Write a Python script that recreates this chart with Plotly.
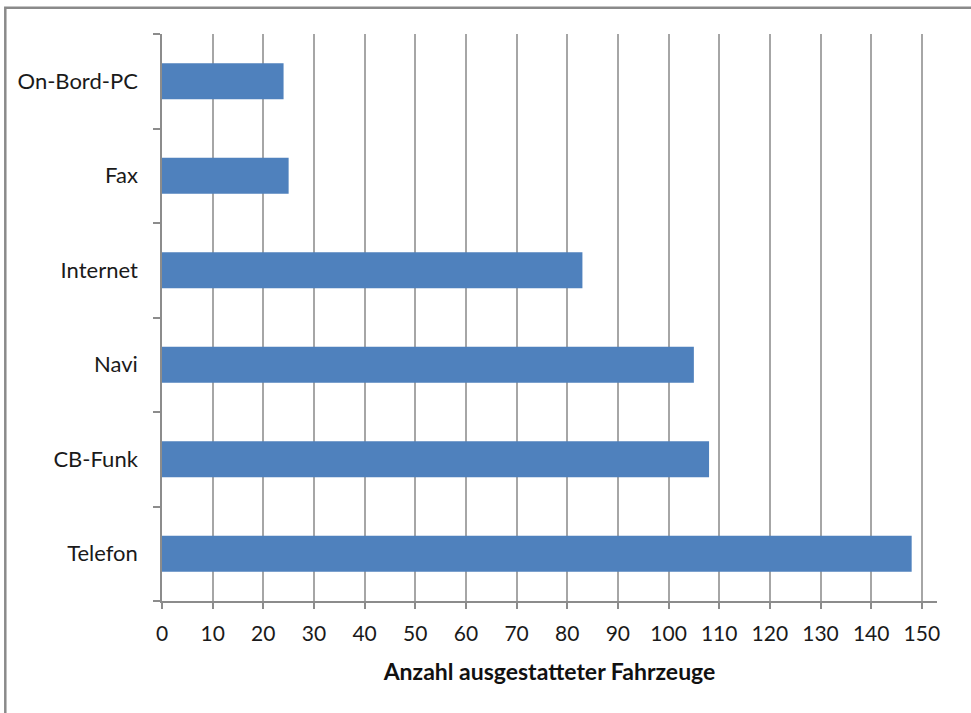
import plotly.graph_objects as go

categories = ["Telefon", "CB-Funk", "Navi", "Internet", "Fax", "On-Bord-PC"]
values = [148, 108, 105, 83, 25, 24]
x_ticks = list(range(0, 151, 10))
x_title = "Anzahl ausgestatteter Fahrzeuge"

W, H = 971, 713
ml, mr, mt, mb = 162, 34, 34, 112
pw = W - ml - mr
ph = H - mt - mb

fig = go.Figure(go.Bar(
    y=categories, x=values, orientation="h",
    marker=dict(color="#4F81BD", line=dict(width=0)),
    width=0.38,
))

font = "Lato, 'Open Sans', sans-serif"
fig.update_layout(
    width=W, height=H,
    margin=dict(l=ml, r=mr, t=mt, b=mb),
    paper_bgcolor="white", plot_bgcolor="white",
    showlegend=False,
    font=dict(family=font, size=21, color="#1a1a1a"),
    xaxis=dict(
        range=[0, 153], tickvals=x_ticks, ticktext=[str(v) for v in x_ticks],
        showgrid=True, gridcolor="#a6a6a6", gridwidth=1.5,
        showline=True, linecolor="#8c8c8c", linewidth=1.5,
        ticks="outside", ticklen=6, tickcolor="#8c8c8c", tickwidth=1.5,
        zeroline=False,
        tickfont=dict(size=21, color="#1a1a1a"),
        ticklabelstandoff=7,
        title=dict(text="<b>" + x_title + "</b>", font=dict(size=23, color="#111"), standoff=20),
    ),
    yaxis=dict(
        categoryorder="array", categoryarray=categories,
        showline=True, linecolor="#8c8c8c", linewidth=1.5,
        ticks="outside", ticklen=7, tickcolor="#8c8c8c", tickwidth=1.5,
        tickson="boundaries",
        showgrid=False,
        tickfont=dict(size=22, color="#1a1a1a"),
        ticklabelstandoff=18,
    ),
)

# outer chart border (gray frame)
fig.add_shape(
    type="rect", xref="paper", yref="paper",
    x0=(5.3 - ml) / pw, x1=(W + 20 - ml) / pw,
    y0=-(H + 20 - mt - ph) / ph,
    y1=1 + (mt - 7.8) / ph,
    line=dict(color="#8a8a8a", width=2.5), fillcolor="rgba(0,0,0,0)", layer="below",
)

fig.write_html("out.html")
